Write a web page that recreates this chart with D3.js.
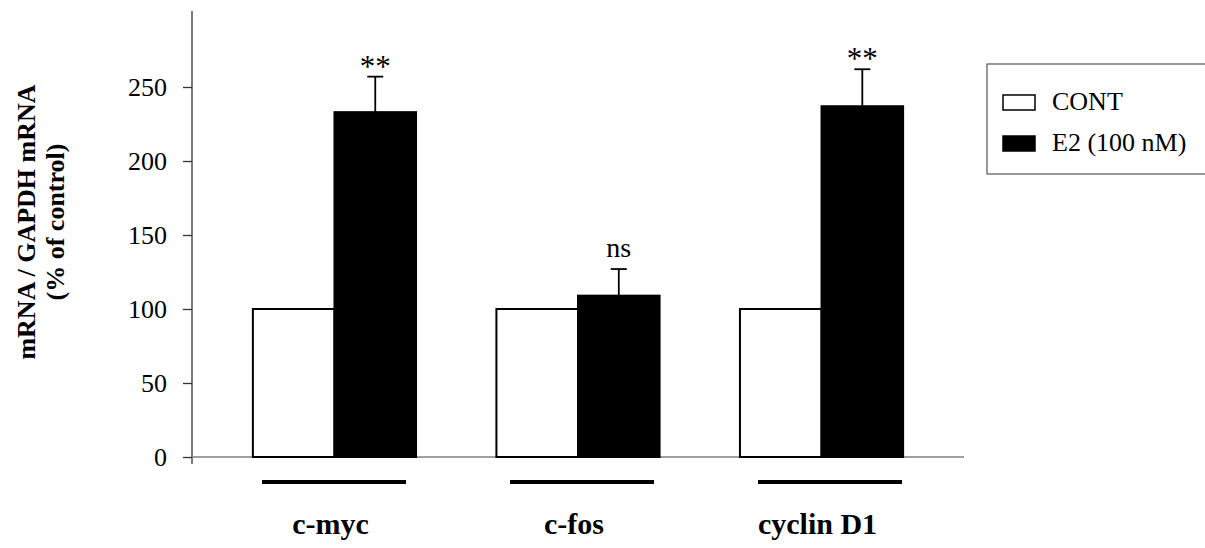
<!DOCTYPE html>
<html>
<head>
<meta charset="utf-8">
<script src="https://cdn.jsdelivr.net/npm/d3@7"></script>
<style>
  body { margin: 0; background: #fff; }
  svg { display: block; font-family: "Liberation Serif", "Times New Roman", serif; }
</style>
</head>
<body>
<svg id="chart" width="1205" height="548"></svg>
<script>
// data
var genes = ["c-myc", "c-fos", "cyclin D1"];
var series = ["CONT", "E2 (100 nM)"];
var contValues = [100, 100, 100];
var e2Values = [233, 109, 237];
var e2Errors = [24, 18, 25];
var sigLabels = ["**", "ns", "**"];
var yTicks = [0, 50, 100, 150, 200, 250];

var svg = d3.select("#chart");

var x0 = d3.scaleBand().domain(genes).range([192, 964]).paddingInner(0.33).paddingOuter(0.25);
var x1 = d3.scaleBand().domain(series).range([0, x0.bandwidth()]);
var y = d3.scaleLinear().domain([0, 300]).range([457, 13]);
// underlines under each pair sit on a slightly wider spacing
var xu = d3.scalePoint().domain(genes).range([334, 830]);

var rows = genes.map(function(g, i) {
    return { gene: g, values: [contValues[i], e2Values[i]], err: e2Errors[i], sig: sigLabels[i] };
});

// y axis
var yAxis = svg.append("g")
    .attr("transform", "translate(192,0)")
    .call(d3.axisLeft(y).tickValues(yTicks).tickSize(9).tickPadding(16).tickSizeOuter(0));
yAxis.select(".domain").remove();
yAxis.selectAll("line").attr("stroke", "#333").attr("stroke-width", 1.3);
yAxis.selectAll("text").attr("font-size", 26).attr("font-family", "Liberation Serif, serif").attr("fill", "#000");
svg.append("line")
    .attr("x1", 192).attr("x2", 192)
    .attr("y1", y(300) - 2).attr("y2", y(0) + 7)
    .attr("stroke", "#333").attr("stroke-width", 1.3);

// x axis baseline
svg.append("line")
    .attr("x1", 192).attr("x2", 964)
    .attr("y1", y(0)).attr("y2", y(0))
    .attr("stroke", "#808080").attr("stroke-width", 1.5);

// bars
var groups = svg.selectAll("g.gene")
    .data(rows)
    .enter()
    .append("g")
    .attr("class", "gene")
    .attr("transform", function(d) { return "translate(" + x0(d.gene) + ",0)"; });

groups.selectAll("rect")
    .data(function(d) { return d.values.map(function(v, j) { return { s: series[j], v: v }; }); })
    .enter()
    .append("rect")
    .attr("x", function(d) { return x1(d.s); })
    .attr("y", function(d) { return y(d.v); })
    .attr("width", x1.bandwidth())
    .attr("height", function(d) { return y(0) - y(d.v); })
    .attr("fill", function(d) { return d.s == "CONT" ? "#fff" : "#000"; })
    .attr("stroke", "#000")
    .attr("stroke-width", 2);

// error bars on E2
var ex = x1(series[1]) + x1.bandwidth() / 2;
groups.append("line")
    .attr("x1", ex).attr("x2", ex)
    .attr("y1", function(d) { return y(d.values[1]); })
    .attr("y2", function(d) { return y(d.values[1] + d.err); })
    .attr("stroke", "#000").attr("stroke-width", 1.8);
groups.append("line")
    .attr("x1", ex - 8).attr("x2", ex + 8)
    .attr("y1", function(d) { return y(d.values[1] + d.err); })
    .attr("y2", function(d) { return y(d.values[1] + d.err); })
    .attr("stroke", "#000").attr("stroke-width", 1.8);

// significance labels
groups.append("text")
    .attr("x", ex)
    .attr("y", function(d) { return y(d.values[1] + d.err) - (d.sig == "ns" ? 12 : 0); })
    .attr("text-anchor", "middle")
    .attr("font-size", function(d) { return d.sig == "ns" ? 28 : 31; })
    .text(function(d) { return d.sig; });

// underline + gene name
svg.selectAll("rect.uline")
    .data(genes)
    .enter()
    .append("rect")
    .attr("class", "uline")
    .attr("x", function(d) { return xu(d) - 72; })
    .attr("y", 480)
    .attr("width", 144)
    .attr("height", 4)
    .attr("fill", "#000");
groups.append("text")
    .attr("x", x0.bandwidth() / 2 - 4)
    .attr("y", 534)
    .attr("text-anchor", "middle")
    .attr("font-size", 30)
    .attr("font-weight", "bold")
    .text(function(d) { return d.gene; });

// y axis title
var title = svg.append("text")
    .attr("transform", "translate(0,222) rotate(-90)")
    .attr("text-anchor", "middle")
    .attr("font-size", 26)
    .attr("font-weight", "bold");
title.append("tspan").attr("x", 0).attr("y", 35).text("mRNA / GAPDH mRNA");
title.append("tspan").attr("x", 0).attr("y", 64).text("(% of control)");

// legend
var legend = svg.append("g");
legend.append("rect")
    .attr("x", 987).attr("y", 64)
    .attr("width", 230).attr("height", 110)
    .attr("fill", "none").attr("stroke", "#555").attr("stroke-width", 1.2);
var items = legend.selectAll("g.item")
    .data(series)
    .enter()
    .append("g")
    .attr("class", "item")
    .attr("transform", function(d, i) { return "translate(1003," + (95 + i * 41) + ")"; });
items.append("rect")
    .attr("width", 32).attr("height", 15)
    .attr("fill", function(d) { return d == "CONT" ? "#fff" : "#000"; })
    .attr("stroke", "#000").attr("stroke-width", 1.5);
items.append("text")
    .attr("x", 49).attr("y", 15)
    .attr("font-size", 26)
    .text(function(d) { return d; });
</script>
</body>
</html>
